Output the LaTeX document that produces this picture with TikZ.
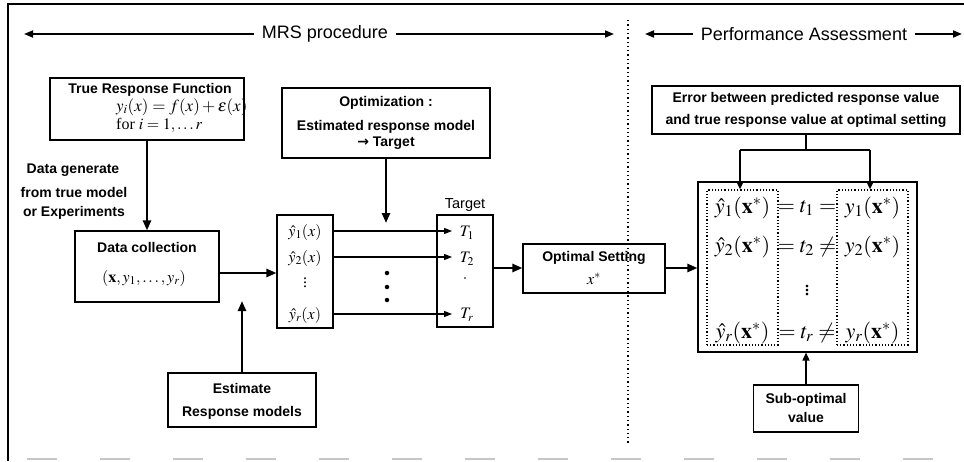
\documentclass[tikz,border=0pt]{standalone}
\usepackage{mathptmx}
\usepackage{fontspec}
\setmainfont{Liberation Serif}
\newfontfamily\labf{Liberation Sans}
\newfontfamily\symf{DejaVu Sans}
\usetikzlibrary{arrows.meta}
\tikzset{
  box/.style={draw, line width=1.1pt, inner sep=0pt},
  lab/.style={font=\labf\bfseries\fontsize{14}{16}\selectfont, inner sep=0pt},
  hdrtxt/.style={font=\labf\fontsize{18}{20}\selectfont, inner sep=0pt},
  mth/.style={font=\fontsize{16}{18}\selectfont, inner sep=0pt},
  mthl/.style={font=\fontsize{17}{19}\selectfont, inner sep=0pt},
  bigm/.style={font=\fontsize{22}{24}\selectfont, inner sep=0pt},
  hdr/.style={line width=1.8pt, -{Triangle[length=9pt,width=7pt]}},
  arrfat/.style={line width=2.4pt, -{Triangle[length=10pt,width=8pt]}},
  arrthin/.style={line width=1.2pt, -{Triangle[length=8pt,width=6pt]}},
  arrmid/.style={line width=1.6pt, -{Triangle[length=8pt,width=7pt]}},
  dotbox/.style={draw, dotted, line width=1.2pt, inner sep=0pt},
  dotnode/.style={circle, fill, inner sep=0pt, minimum size=4.5pt},
}
\begin{document}
\begin{tikzpicture}[x=1pt,y=-1pt]
\useasboundingbox (0,0) rectangle (964,461);
% frame
\draw[line width=1.6pt] (8,461) -- (8,4) -- (964,4);
\draw[gray!45, line width=1.5pt, dash pattern=on 30pt off 43pt] (27,459) -- (964,459);
% headers
\node[hdrtxt] (mrs) at (325,34) {MRS procedure};
\coordinate (mrsL) at (24,34);
\coordinate (mrsR) at (614,34);
\draw[hdr] ([xshift=-8pt]mrs.west) -- (mrsL);
\draw[hdr] ([xshift=8pt]mrs.east) -- (mrsR);
\node[hdrtxt] (pa) at (804,34) {Performance Assessment};
\coordinate (paL) at (645,34);
\coordinate (paR) at (962,34);
\draw[hdr] ([xshift=-8pt]pa.west) -- (paL);
\draw[hdr] ([xshift=8pt]pa.east) -- (paR);
% separator
\coordinate (sepT) at (628,20);
\coordinate (sepB) at (628,443);
\draw[line width=1.3pt, dash pattern=on 1.3pt off 3pt] (sepT) -- (sepB);
% true response function
\node[box, minimum width=194pt, minimum height=62pt] (trf) at (147,109) {};
\node[lab] (trft) at (150,90) {True Response Function};
\node[mthl, anchor=west] (trff) at (116,107) {$y_i(x)=f(x)+\varepsilon(x)$};
\node[mth, anchor=west] (trfi) at (116,125) {for $i=1,\ldots r$};
% data generate label
\node[lab] (dg1) at (73,170) {Data generate};
\node[lab] (dg2) at (74,192) {from true model};
\node[lab] (dg3) at (74,213) {or Experiments};
% data collection
\node[box, minimum width=144pt, minimum height=71pt] (dc) at (147,266.5) {};
\node[lab] (dct) at (147,247) {Data collection};
\node[mth] (dcf) at (144,278) {$(\mathbf{x}, y_1, \ldots, y_r)$};
\draw[arrfat] (trf.south) -- (dc.north);
% estimated responses
\node[box, minimum width=56pt, minimum height=113pt] (yh) at (305,271.5) {};
\node[mth] (yh1) at (305,232) {$\hat{y}_1(x)$};
\node[mth] (yh2) at (305,258) {$\hat{y}_2(x)$};
\node[mth] (yhd) at (305,280) {$\vdots$};
\node[mth] (yhr) at (305,315) {$\hat{y}_r(x)$};
\draw[arrfat] (dc.east |- 0,273) -- (yh.west |- 0,273);
% estimate box
\node[box, minimum width=148pt, minimum height=54pt] (est) at (242,400) {};
\node[lab] (estt1) at (242,388) {Estimate};
\node[lab] (estt2) at (242,413) {Response models};
\coordinate (estend) at (242,301);
\draw[arrfat] (est.north) -- (estend);
% optimization
\node[box, minimum width=208pt, minimum height=70pt] (opt) at (386,123) {};
\node[lab] (optt1) at (386,103) {Optimization :};
\node[lab] (optt2) at (386,127) {Estimated response model};
\node[lab] (optt3) at (386,143) {{\symf\bfseries →} Target};
\coordinate (optend) at (386,223);
\draw[arrfat] (opt.south) -- (optend);
% target box
\node[box, minimum width=56pt, minimum height=112pt] (tg) at (465,271) {};
\node[font=\labf\fontsize{14.5}{16}\selectfont, inner sep=0pt] (tgl) at (465,205) {Target};
\node[mth] (t1) at (467,233) {$T_1$};
\node[mth] (t2) at (467,259) {$T_2$};
\node[mth] (tdot) at (465,279) {$\cdot$};
\node[mth] (tr) at (467,315) {$T_r$};
\coordinate (a1) at (452,231);
\coordinate (a2) at (452,257);
\coordinate (ar) at (452,314);
\draw[arrthin] (yh.east |- a1) -- (a1);
\draw[arrthin] (yh.east |- a2) -- (a2);
\draw[arrthin] (yh.east |- ar) -- (ar);
\node[dotnode] (d1) at (387,273) {};
\node[dotnode] (d2) at (387,287) {};
\node[dotnode] (d3) at (387,300) {};
% optimal setting
\node[box, minimum width=142pt, minimum height=49pt] (os) at (594,268.5) {};
\node[lab] (ost) at (594,258) {Optimal Setting};
\node[mth] (osx) at (594,279) {$x^{*}$};
\draw[arrfat] (tg.east |- 0,268) -- (os.west |- 0,268);
% big box
\node[box, minimum width=219pt, minimum height=170pt] (bb) at (807.5,267) {};
\draw[arrfat] (os.east |- 0,268) -- (bb.west |- 0,268);
\node[dotbox, minimum width=71pt, minimum height=155pt] (ldb) at (742.5,267.5) {};
\node[dotbox, minimum width=71pt, minimum height=155pt] (rdb) at (872.5,267.5) {};
\node[bigm] (l1) at (742.5,208) {$\hat{y}_1(\mathbf{x}^{*})$};
\node[bigm] (l2) at (742.5,247) {$\hat{y}_2(\mathbf{x}^{*})$};
\node[bigm] (lr) at (742.5,333) {$\hat{y}_r(\mathbf{x}^{*})$};
\node[bigm] (m1) at (807,208) {$=t_1=$};
\node[bigm] (m2) at (807,247) {$=t_2\neq$};
\node[bigm] (mdots) at (807,288) {$\vdots$};
\node[bigm] (mr) at (807,333) {$=t_r\neq$};
\node[bigm] (r1) at (872.5,208) {$y_1(\mathbf{x}^{*})$};
\node[bigm] (r2) at (872.5,247) {$y_2(\mathbf{x}^{*})$};
\node[bigm] (rr) at (872.5,333) {$y_r(\mathbf{x}^{*})$};
% error box
\node[box, minimum width=308pt, minimum height=48pt] (err) at (806,110) {};
\node[lab] (errt1) at (806,99) {Error between predicted response value};
\node[lab] (errt2) at (806,121) {and true response value at optimal setting};
\coordinate (eb) at (806,150);
\coordinate (el) at (740,150);
\coordinate (er) at (870,150);
\draw[line width=1.5pt] (err.south) -- (eb);
\draw[line width=1.5pt] (el) -- (er);
\draw[arrmid] (el) -- (el |- ldb.north);
\draw[arrmid] (er) -- (er |- rdb.north);
% sub-optimal
\node[box, minimum width=105pt, minimum height=47pt] (sub) at (806,408.5) {};
\node[lab] (subt1) at (806,400) {Sub-optimal};
\node[lab] (subt2) at (806,417) {value};
\draw[arrmid] (sub.north) -- (sub.north |- bb.south);
\end{tikzpicture}
\end{document}
